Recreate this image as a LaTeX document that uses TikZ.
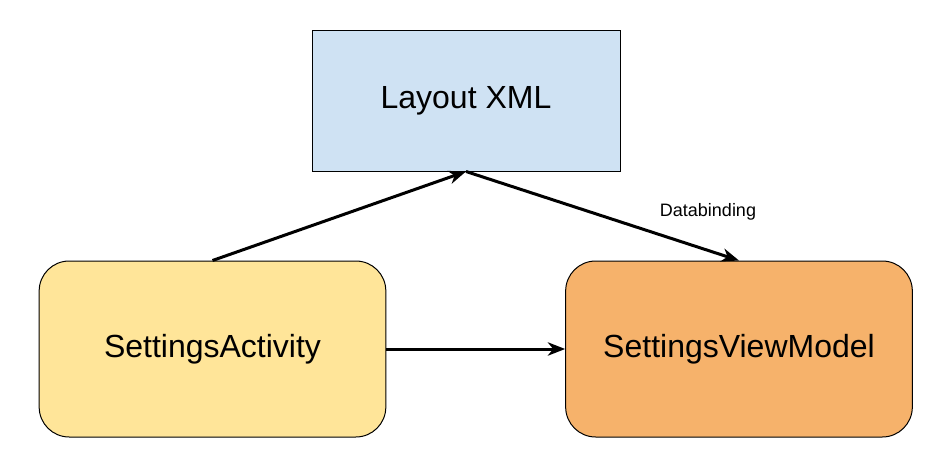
\documentclass[tikz,border=0pt]{standalone}
\usepackage{fontspec}
\setmainfont{Liberation Sans}
\usetikzlibrary{arrows.meta,positioning}
\definecolor{xmlblue}{HTML}{CFE2F3}
\definecolor{actyellow}{HTML}{FFE599}
\definecolor{vmorange}{HTML}{F6B26B}
\tikzset{
  block/.style={draw=black, line width=0.75pt, inner sep=0pt, font=\fontsize{24}{28}\selectfont},
  round/.style={block, rounded corners=22.5pt, minimum width=260pt, minimum height=132pt},
  link/.style={line width=2.25pt, -{Stealth[length=13pt, width=10pt, inset=4pt]}}
}
\begin{document}
\begin{tikzpicture}[x=0.75pt, y=-0.75pt]
\useasboundingbox (0,0) rectangle (951,468);
\node[block, fill=xmlblue, minimum width=231pt, minimum height=105.75pt] (layout) at (466,100.5) {Layout XML};
\node[round, fill=actyellow] (activity) at (212.5,349) {SettingsActivity};
\node[round, fill=vmorange] (viewmodel) at (739,349) {SettingsViewModel};
\node[font=\fontsize{13.5}{16}\selectfont] (bind) at (708,212) {Databinding};
\draw[link] (activity.north) -- (layout.south);
\draw[link] (layout.south) -- (viewmodel.north);
\draw[link] (activity.east) -- (viewmodel.west);
\end{tikzpicture}
\end{document}
